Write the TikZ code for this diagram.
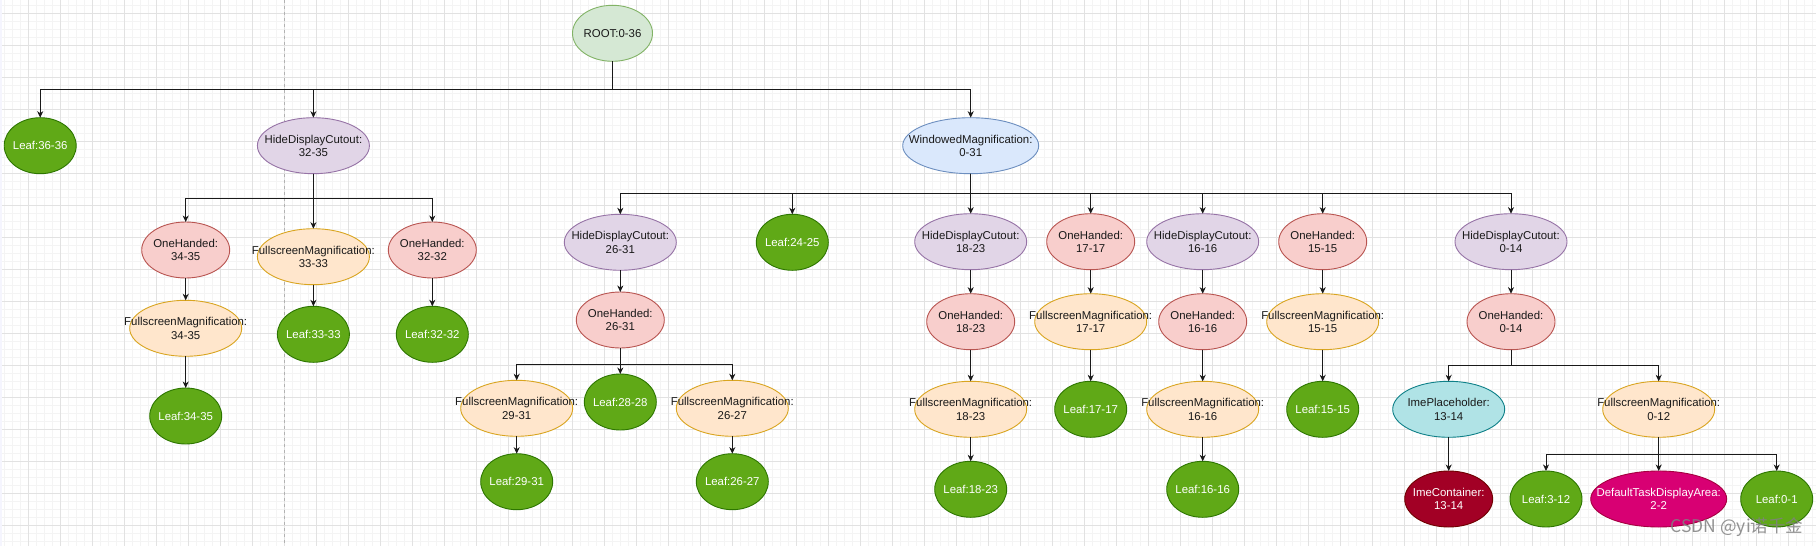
\documentclass[tikz,border=0pt]{standalone}
\usepackage{fontspec}
\setmainfont{Liberation Sans}
\newfontfamily\cjkfont{Noto Sans CJK SC}
\usetikzlibrary{shapes.geometric,arrows.meta}
\definecolor{leafF}{HTML}{60A917}\definecolor{leafD}{HTML}{2D7600}
\definecolor{rootF}{HTML}{D5E8D4}\definecolor{rootD}{HTML}{82B366}
\definecolor{hdcF}{HTML}{E1D5E7}\definecolor{hdcD}{HTML}{9673A6}
\definecolor{wmF}{HTML}{DAE8FC}\definecolor{wmD}{HTML}{6C8EBF}
\definecolor{ohF}{HTML}{F8CECC}\definecolor{ohD}{HTML}{B85450}
\definecolor{fmF}{HTML}{FFE6CC}\definecolor{fmD}{HTML}{D9A520}
\definecolor{imeF}{HTML}{B0E3E6}\definecolor{imeD}{HTML}{0E8088}
\definecolor{imecF}{HTML}{A20025}\definecolor{imecD}{HTML}{6F0000}
\definecolor{tdaF}{HTML}{D80073}\definecolor{tdaD}{HTML}{A50040}
\definecolor{gminorC}{HTML}{F4F4F4}\definecolor{gmajorC}{HTML}{E2E2E2}
\newcommand\enode[5]{\node[#2] (#1) at (#4) {}; \node[#3] (#1-t) at (#1.center) {#5};}
\newcommand\tedge[3]{\draw[conn] (#1.south) -- (#1.south |- #3) -| (#2.north);}
\newcommand\vedge[2]{\draw[conn] (#1.south) -- (#2.north);}
\tikzset{
  base/.style={ellipse, line width=0.9pt, minimum height=56pt, inner sep=0pt, outer sep=0pt},
  leafst/.style={base, fill=leafF, draw=leafD, minimum width=72pt},
  rootst/.style={base, fill=rootF, draw=rootD, minimum width=80pt},
  hdcst/.style={base, fill=hdcF, draw=hdcD, minimum width=112pt},
  wmst/.style={base, fill=wmF, draw=wmD, minimum width=136pt},
  ohst/.style={base, fill=ohF, draw=ohD, minimum width=88pt},
  fmst/.style={base, fill=fmF, draw=fmD, minimum width=112pt},
  imest/.style={base, fill=imeF, draw=imeD, minimum width=112pt},
  imecst/.style={base, fill=imecF, draw=imecD, minimum width=88pt},
  tdast/.style={base, fill=tdaF, draw=tdaD, minimum width=136pt},
  darktxt/.style={inner sep=0pt, align=center, text=black!90, font=\fontsize{11.4}{13.5}\selectfont},
  lighttxt/.style={darktxt, text=white},
  conn/.style={draw=black!90, line width=0.9pt, -{Stealth[length=6.5pt,width=6pt,inset=2pt]}},
  gminor/.style={draw=gminorC, line width=0.8pt},
  gmajor/.style={draw=gmajorC, line width=0.9pt},
}
\begin{document}
\begin{tikzpicture}[x=1pt,y=-1pt]
\useasboundingbox (0,0) rectangle (1816,546);
\fill[white] (0,0) rectangle (1816,546);
\foreach \i in {0,...,227} {\draw[gminor] ({4.3+8*\i},0) -- ({4.3+8*\i},546);}
\foreach \i in {0,...,68} {\draw[gminor] (0,{5.7+8*\i}) -- (1816,{5.7+8*\i});}
\foreach \i in {0,...,55} {\draw[gmajor] ({28.3+32*\i},0) -- ({28.3+32*\i},546);}
\foreach \i in {0,...,16} {\draw[gmajor] (0,{13.7+32*\i}) -- (1816,{13.7+32*\i});}
\fill[black!12!blue!4] (0,0) rectangle (2,546);
\draw[black!30, line width=0.8pt, dash pattern=on 3pt off 3pt] (284.3,0) -- (284.3,546);

\coordinate (bR) at (0,89.3);
\coordinate (bH) at (0,198.3);
\coordinate (bW) at (0,193.3);
\coordinate (bO) at (0,364);
\coordinate (bI) at (0,365.3);
\coordinate (bF) at (0,454.7);

\enode{root}{rootst}{darktxt}{612.5,33.3}{ROOT:0-36}
\enode{l3636}{leafst}{lighttxt}{40.2,145.7}{Leaf:36-36}
\enode{hdc3235}{hdcst}{darktxt}{313.4,145.7}{HideDisplayCutout:\\32-35}
\enode{wmag}{wmst}{darktxt}{970.7,145.7}{WindowedMagnification:\\0-31}

\enode{oh3435}{ohst}{darktxt}{185.7,250}{OneHanded:\\34-35}
\enode{fm3333}{fmst}{darktxt}{313.4,256.7}{FullscreenMagnification:\\33-33}
\enode{oh3232}{ohst}{darktxt}{432.3,250}{OneHanded:\\32-32}
\enode{fm3435}{fmst}{darktxt}{185.7,328.3}{FullscreenMagnification:\\34-35}
\enode{l3333}{leafst}{lighttxt}{313.4,334.3}{Leaf:33-33}
\enode{l3232}{leafst}{lighttxt}{432.3,334.3}{Leaf:32-32}
\enode{l3435}{leafst}{lighttxt}{185.7,416}{Leaf:34-35}

\enode{hdc2631}{hdcst}{darktxt}{620.3,242.3}{HideDisplayCutout:\\26-31}
\enode{l2425}{leafst}{lighttxt}{792.3,242.3}{Leaf:24-25}
\enode{hdc1823}{hdcst}{darktxt}{970.7,241.7}{HideDisplayCutout:\\18-23}
\enode{oh1717}{ohst}{darktxt}{1090.7,241.7}{OneHanded:\\17-17}
\enode{hdc1616}{hdcst}{darktxt}{1202.7,241.7}{HideDisplayCutout:\\16-16}
\enode{oh1515}{ohst}{darktxt}{1322.7,241.7}{OneHanded:\\15-15}
\enode{hdc014}{hdcst}{darktxt}{1511,241.7}{HideDisplayCutout:\\0-14}

\enode{oh2631}{ohst}{darktxt}{620.3,320}{OneHanded:\\26-31}
\enode{fm2931}{fmst}{darktxt}{516.7,408.3}{FullscreenMagnification:\\29-31}
\enode{l2828}{leafst}{lighttxt}{620.3,402}{Leaf:28-28}
\enode{fm2627}{fmst}{darktxt}{732.3,408.3}{FullscreenMagnification:\\26-27}
\enode{l2931}{leafst}{lighttxt}{516.7,481.7}{Leaf:29-31}
\enode{l2627}{leafst}{lighttxt}{732.3,481.7}{Leaf:26-27}

\enode{oh1823}{ohst}{darktxt}{970.7,321.7}{OneHanded:\\18-23}
\enode{fm1823}{fmst}{darktxt}{970.7,409.3}{FullscreenMagnification:\\18-23}
\enode{l1823}{leafst}{lighttxt}{970.7,489.3}{Leaf:18-23}
\enode{fm1717}{fmst}{darktxt}{1090.7,321.7}{FullscreenMagnification:\\17-17}
\enode{l1717}{leafst}{lighttxt}{1090.7,409.3}{Leaf:17-17}
\enode{oh1616}{ohst}{darktxt}{1202.7,321.7}{OneHanded:\\16-16}
\enode{fm1616}{fmst}{darktxt}{1202.7,409.3}{FullscreenMagnification:\\16-16}
\enode{l1616}{leafst}{lighttxt}{1202.7,489.3}{Leaf:16-16}
\enode{fm1515}{fmst}{darktxt}{1322.7,321.7}{FullscreenMagnification:\\15-15}
\enode{l1515}{leafst}{lighttxt}{1322.7,409.3}{Leaf:15-15}

\enode{oh014}{ohst}{darktxt}{1511,321.7}{OneHanded:\\0-14}
\enode{ime}{imest}{darktxt}{1448.7,409.3}{ImePlaceholder:\\13-14}
\enode{fm012}{fmst}{darktxt}{1658.7,409.3}{FullscreenMagnification:\\0-12}
\enode{imec}{imecst}{lighttxt}{1448.7,499}{ImeContainer:\\13-14}
\enode{l312}{leafst}{lighttxt}{1546,499}{Leaf:3-12}
\enode{tda}{tdast}{lighttxt}{1658.7,499}{DefaultTaskDisplayArea:\\2-2}
\enode{l01}{leafst}{lighttxt}{1776.7,499}{Leaf:0-1}

\tedge{root}{l3636}{bR}
\tedge{root}{hdc3235}{bR}
\tedge{root}{wmag}{bR}

\tedge{hdc3235}{oh3435}{bH}
\tedge{hdc3235}{fm3333}{bH}
\tedge{hdc3235}{oh3232}{bH}
\vedge{oh3435}{fm3435}
\vedge{fm3435}{l3435}
\vedge{fm3333}{l3333}
\vedge{oh3232}{l3232}

\tedge{wmag}{hdc2631}{bW}
\tedge{wmag}{l2425}{bW}
\tedge{wmag}{hdc1823}{bW}
\tedge{wmag}{oh1717}{bW}
\tedge{wmag}{hdc1616}{bW}
\tedge{wmag}{oh1515}{bW}
\tedge{wmag}{hdc014}{bW}

\vedge{hdc2631}{oh2631}
\tedge{oh2631}{fm2931}{bO}
\tedge{oh2631}{l2828}{bO}
\tedge{oh2631}{fm2627}{bO}
\vedge{fm2931}{l2931}
\vedge{fm2627}{l2627}

\vedge{hdc1823}{oh1823}
\vedge{oh1823}{fm1823}
\vedge{fm1823}{l1823}
\vedge{oh1717}{fm1717}
\vedge{fm1717}{l1717}
\vedge{hdc1616}{oh1616}
\vedge{oh1616}{fm1616}
\vedge{fm1616}{l1616}
\vedge{oh1515}{fm1515}
\vedge{fm1515}{l1515}

\vedge{hdc014}{oh014}
\tedge{oh014}{ime}{bI}
\tedge{oh014}{fm012}{bI}
\vedge{ime}{imec}
\tedge{fm012}{l312}{bF}
\tedge{fm012}{tda}{bF}
\tedge{fm012}{l01}{bF}

\node[text=black!50, opacity=0.85, inner sep=0pt, font=\cjkfont\fontsize{17.5}{19}\selectfont] (wmark) at (1737,527) {CSDN @yi诺千金};
\end{tikzpicture}
\end{document}
